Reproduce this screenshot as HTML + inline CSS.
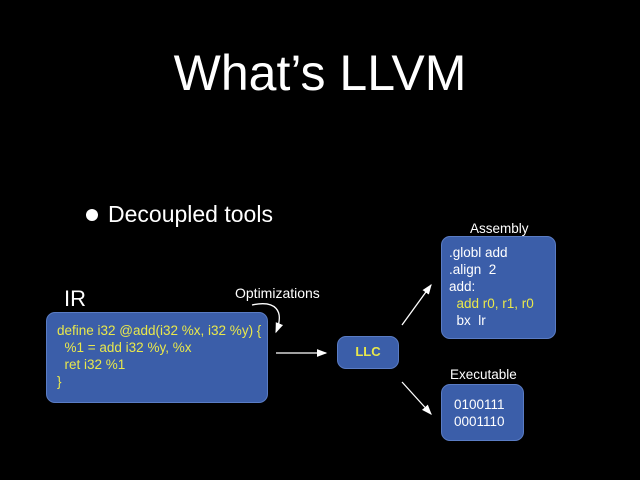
<html><head><style>
body{margin:0;width:640px;height:480px;background:#000;position:relative;overflow:hidden;font-family:"Liberation Sans",sans-serif;color:#fff}
.a{position:absolute;white-space:pre}
.box{position:absolute;background:#3b5ea9;border:1.5px solid #5a7cc4;border-radius:9px;box-sizing:border-box}
.y{color:#e9e84c}
</style></head><body>
<div class="a" style="left:0;width:640px;text-align:center;top:44px;font-size:50px">What’s LLVM</div>
<div style="position:absolute;left:86px;top:209px;width:12px;height:12px;border-radius:50%;background:#fff"></div>
<div class="a" style="left:108px;top:201px;font-size:23px">Decoupled tools</div>
<div class="a" style="left:64px;top:286px;font-size:22px">IR</div>
<div class="a" style="left:235px;top:285px;font-size:14px">Optimizations</div>
<div class="box" style="left:46px;top:312px;width:222px;height:91px"></div>
<div class="a y" style="left:57px;top:322px;font-size:13.5px;line-height:17px">define i32 @add(i32 %x, i32 %y) {
  %1 = add i32 %y, %x
  ret i32 %1
}</div>
<div class="box" style="left:337px;top:336px;width:62px;height:33px"></div>
<div class="a y" style="left:337px;width:62px;text-align:center;top:344px;font-size:13px;font-weight:bold">LLC</div>
<div class="a" style="left:470px;top:221px;font-size:13.5px">Assembly</div>
<div class="box" style="left:441px;top:236px;width:115px;height:103px"></div>
<div class="a" style="left:449px;top:244px;font-size:13.5px;line-height:17px">.globl add
.align  2
add:
  <span class="y">add r0, r1, r0</span>
  bx  lr</div>
<div class="a" style="left:450px;top:367px;font-size:13.5px">Executable</div>
<div class="box" style="left:441px;top:384px;width:83px;height:57px"></div>
<div class="a" style="left:454px;top:396px;font-size:13.5px;line-height:17px">0100111
0001110</div>
<svg width="640" height="480" style="position:absolute;left:0;top:0">
<defs><marker id="m" markerWidth="8" markerHeight="8" refX="7" refY="4" orient="auto"><path d="M0,1 L8,4 L0,7z" fill="#fff"/></marker></defs>
<g stroke="#fff" stroke-width="1.3" fill="none">
<line x1="276" y1="353" x2="326" y2="353" marker-end="url(#m)"/>
<line x1="402" y1="325" x2="431" y2="285" marker-end="url(#m)"/>
<line x1="402" y1="382" x2="431" y2="414" marker-end="url(#m)"/>
<path d="M252,305 C275,300 285,310 276,332" marker-end="url(#m)"/>
</g></svg>
</body></html>
